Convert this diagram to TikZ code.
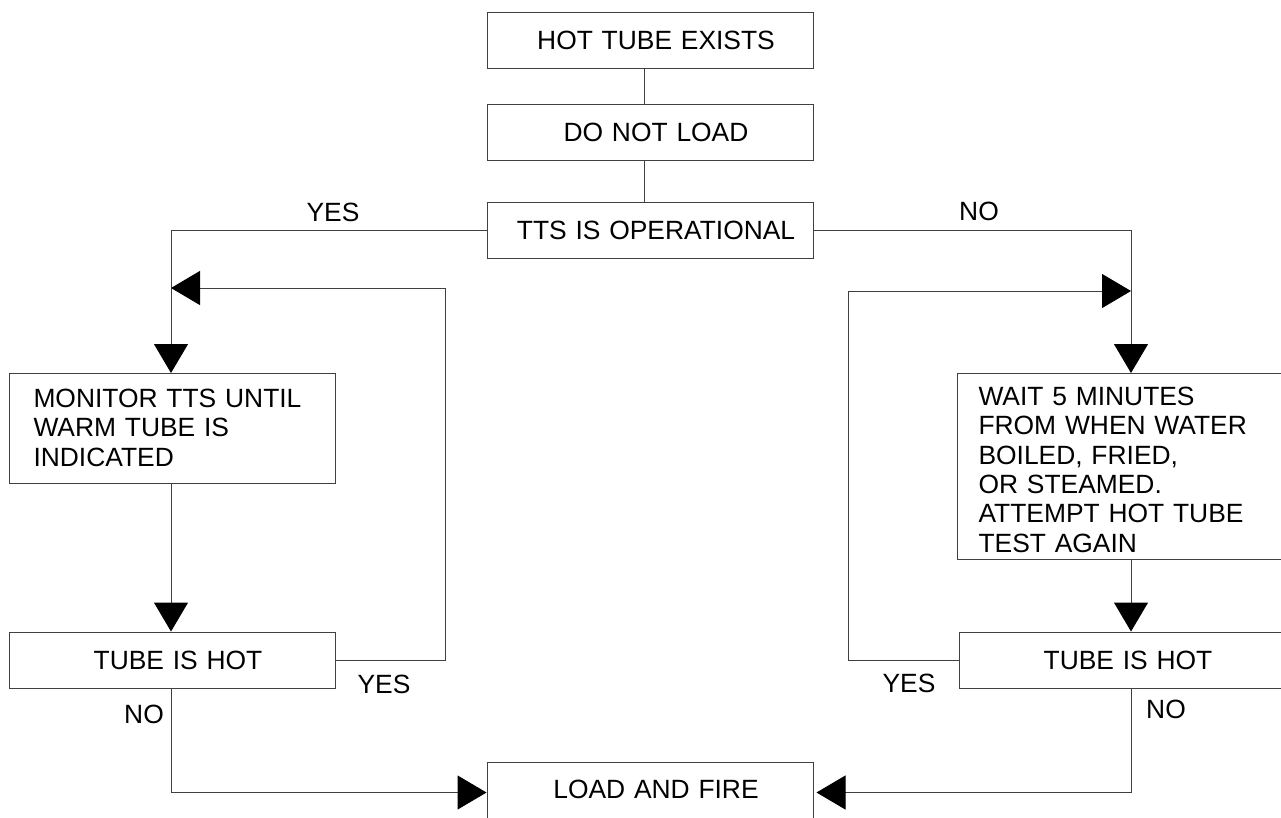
\documentclass[tikz,border=0pt]{standalone}
\usepackage{fontspec}
\setmainfont{Liberation Sans}
\usetikzlibrary{arrows.meta}
\newcommand\diafont{\fontsize{26.4pt}{29.3pt}\selectfont}
\tikzset{
  box/.style={draw=black!75, line width=1pt, minimum width=326pt, inner sep=0pt, font=\diafont},
  cbox/.style={box, text width=326pt, align=center, execute at begin node={\hspace*{12pt}}},
  sbox/.style={cbox, minimum height=56pt, text height=18.9pt, text depth=0pt},
  tbox/.style={box, anchor=north west, align=left},
  conn/.style={draw=black!75, line width=1pt},
  arr/.style={conn, -{Triangle[length=29pt,width=34pt,color=black]}},
  lbl/.style={font=\diafont, inner sep=0pt, text height=18.9pt, text depth=0pt}
}
\begin{document}
\begin{tikzpicture}[x=1pt,y=-1pt]
\useasboundingbox[fill=white] (0,0) rectangle (1281,817);
\clip (0,0) rectangle (1281,817);
% boxes
\node[sbox] (hot) at (650,40) {HOT TUBE EXISTS};
\node[sbox] (dnl) at (650,132) {DO NOT LOAD};
\node[sbox] (tts) at (650,230) {TTS IS OPERATIONAL};
\node[tbox, inner xsep=24pt, text width=278pt, text height=34pt, text depth=76pt] (mon) at (9,373)
  {MONITOR TTS UNTIL\\WARM TUBE IS\\INDICATED};
\node[tbox, inner xsep=21pt, text width=284pt, text height=32pt, text depth=154pt] (wait) at (957,373)
  {WAIT 5 MINUTES\\FROM WHEN WATER\\BOILED, FRIED,\\OR STEAMED.\\ATTEMPT HOT TUBE\\TEST AGAIN};
\node[sbox] (lhot) at (172,660) {TUBE IS HOT};
\node[sbox] (rhot) at (1122,660) {TUBE IS HOT};
\node[cbox, anchor=north, text height=35.5pt, text depth=24.5pt] (load) at (650,762) {LOAD AND FIRE};
% labels
\node[lbl] (yes1) at (333,212) {YES};
\node[lbl] (no1) at (979,211) {NO};
\node[lbl] (yes2) at (384,684) {YES};
\node[lbl] (no2) at (144,714) {NO};
\node[lbl] (yes3) at (909,683) {YES};
\node[lbl] (no3) at (1166,709) {NO};
% junctions
\coordinate (jl) at (171,288);
\coordinate (jr) at (1131,291);
% connectors
\draw[conn] ([xshift=-6pt]hot.south) -- ([xshift=-6pt]dnl.north);
\draw[conn] ([xshift=-6pt]dnl.south) -- ([xshift=-6pt]tts.north);
\draw[arr] (tts.west) -| (jl |- mon.north);
\draw[arr] (lhot.east) -- ++(110,0) |- (jl);
\draw[arr] (jl |- mon.south) -- (jl |- lhot.north);
\draw[arr] (jl |- lhot.south) |- (load.west);
\draw[arr] (tts.east) -| (jr |- wait.north);
\draw[arr] (rhot.west) -- ++(-110,0) |- (jr);
\draw[arr] (jr |- wait.south) -- (jr |- rhot.north);
\draw[arr] (jr |- rhot.south) |- ([xshift=3pt]load.east);
\end{tikzpicture}
\end{document}
